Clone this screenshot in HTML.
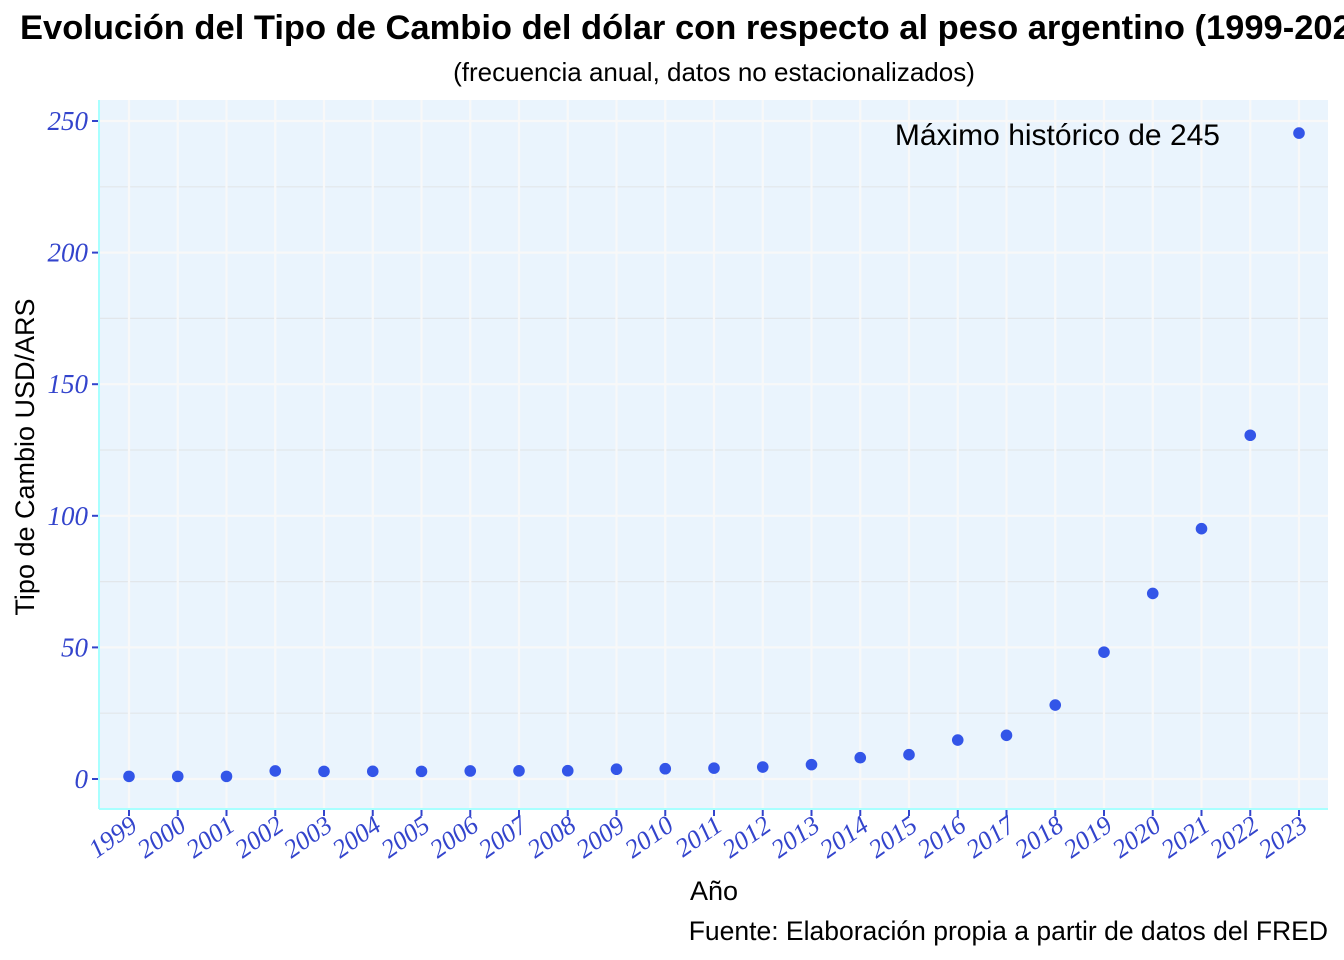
<!DOCTYPE html>
<html><head><meta charset="utf-8"><style>
html,body{margin:0;padding:0;width:1344px;height:960px;overflow:hidden;background:#fff}
svg{display:block}
</style></head><body>
<svg id="chart" width="1344" height="960" xmlns="http://www.w3.org/2000/svg">
<text x="20" y="39" font-family="Liberation Sans, sans-serif" font-weight="bold" font-size="34.5" fill="#000">Evolución del Tipo de Cambio del dólar con respecto al peso argentino (1999-2023)</text>
<text x="714" y="81" text-anchor="middle" font-family="Liberation Sans, sans-serif" font-size="26" fill="#000">(frecuencia anual, datos no estacionalizados)</text>
<rect x="99" y="100" width="1229" height="709" fill="#eaf4fd"/>
<g id="grid"></g>
<line x1="99" y1="100" x2="99" y2="809" stroke="#a8ffff" stroke-width="2"/>
<line x1="99" y1="809" x2="1328" y2="809" stroke="#a8ffff" stroke-width="2"/>
<g id="axes"></g>
<g id="points"></g>
<text x="1220" y="145" text-anchor="end" font-family="Liberation Sans, sans-serif" font-size="30" fill="#000">Máximo histórico de 245</text>
<text x="714" y="900" text-anchor="middle" font-family="Liberation Sans, sans-serif" font-size="27" fill="#000">Año</text>
<text transform="translate(34,457) rotate(-90)" text-anchor="middle" font-family="Liberation Sans, sans-serif" font-size="27" fill="#000">Tipo de Cambio USD/ARS</text>
<text x="1328" y="940" text-anchor="end" font-family="Liberation Sans, sans-serif" font-size="26.5" fill="#000">Fuente: Elaboración propia a partir de datos del FRED</text>
</svg>
<script>
const years = [1999,2000,2001,2002,2003,2004,2005,2006,2007,2008,2009,2010,2011,2012,2013,2014,2015,2016,2017,2018,2019,2020,2021,2022,2023];
const rates = [1.0,1.0,1.0,3.06,2.9,2.92,2.9,3.05,3.1,3.14,3.71,3.9,4.13,4.55,5.46,8.08,9.23,14.8,16.6,28.1,48.2,70.5,95.1,130.6,245.4];
const yTicks = [0,50,100,150,200,250];
const yMinor = [25,75,125,175,225];
const NS = "http://www.w3.org/2000/svg";
const xPos = y => 129 + (y - 1999) * 48.75;
const yPos = v => 779 - v * 2.632;
function mk(tag, attrs, parent){const e=document.createElementNS(NS,tag);for(const k in attrs)e.setAttribute(k,attrs[k]);parent.appendChild(e);return e;}
const grid=document.getElementById('grid'), axes=document.getElementById('axes'), pts=document.getElementById('points');
yMinor.forEach(v=>{const l=mk('line',{x1:99,x2:1328,y1:yPos(v),y2:yPos(v),stroke:'#e2e6ea','stroke-width':1.2},grid);

});
yTicks.forEach(v=>{const l=mk('line',{x1:99,x2:1328,y1:yPos(v),y2:yPos(v),stroke:'#f8f8f8','stroke-width':2.2},grid);


const t=mk('line',{x1:92,x2:98,y1:yPos(v),y2:yPos(v),stroke:'#3344cc','stroke-width':2},axes);


const tx=mk('text',{x:88,y:yPos(v)+9,'text-anchor':'end','font-family':'Liberation Serif, serif','font-style':'italic','font-size':27,fill:'#3344cc'},axes);
tx.textContent=v;

});
years.forEach((y,i)=>{const x=xPos(y);
const g=mk('line',{x1:x,x2:x,y1:100,y2:808,stroke:'#f8f8f8','stroke-width':2.2},grid);


const t=mk('line',{x1:x,x2:x,y1:810,y2:816,stroke:'#3344cc','stroke-width':2},axes);


const tx=mk('text',{transform:`translate(${x+10},${829}) rotate(-35)`,'text-anchor':'end','font-family':'Liberation Serif, serif','font-style':'italic','font-size':26,fill:'#3344cc'},axes);
tx.textContent=y;


const c=mk('circle',{cx:x,cy:yPos(rates[i]),r:5.8,fill:'#3355e8'},pts);

});
</script>
</body></html>
